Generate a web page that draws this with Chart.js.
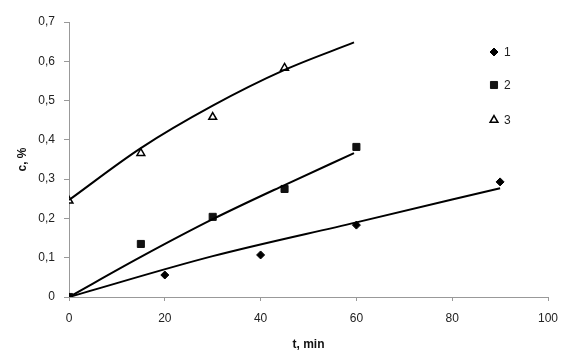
<!DOCTYPE html>
<html>
<head>
  <meta charset="UTF-8">
  <title>c vs t</title>
  <script src="https://cdn.jsdelivr.net/npm/chart.js"></script>
  <style>
    html, body { margin: 0; padding: 0; background: #fff; }
    #wrap { width: 561px; height: 352px; }
  </style>
</head>
<body>
  <div id="wrap"><canvas id="grafico" width="561" height="352"></canvas></div>

  <script>
    // measured points
    const seriesNames = ["1", "2", "3"];
    const t1 = [0, 20, 40, 60, 90];
    const c1 = [0, 0.056, 0.107, 0.183, 0.293];
    const t2 = [0, 15, 30, 45, 60];
    const c2 = [0, 0.135, 0.204, 0.275, 0.382];
    const t3 = [0, 15, 30, 45];
    const c3 = [0.245, 0.366, 0.458, 0.583];

    // trend lines
    const trendT1 = [0, 30, 60, 90];
    const trendC1 = [0, 0.104, 0.19, 0.277];
    const trendT2 = [0, 15, 30, 45, 59.5];
    const trendC2 = [0, 0.102, 0.198, 0.285, 0.366];
    const trendT3 = [0, 15, 30, 45, 59.5];
    const trendC3 = [0.247, 0.379, 0.487, 0.578, 0.648];

    const xTicks = [0, 20, 40, 60, 80, 100];
    const yTicks = [0, 0.1, 0.2, 0.3, 0.4, 0.5, 0.6, 0.7];

    const FONT = "Arial, 'Liberation Sans', sans-serif";
    const pts = (xs, ys) => xs.map((x, i) => ({ x: x, y: ys[i] }));
    const fmt = v => v === 0 ? "0" : v.toFixed(1).replace(".", ",");

    const trend = (xs, ys) => ({
      type: "line",
      data: pts(xs, ys),
      borderColor: "#000",
      borderWidth: 2,
      pointRadius: 0,
      cubicInterpolationMode: "monotone",
      fill: false
    });

    const markers = [
      { pointStyle: "rectRot", pointRadius: 4, backgroundColor: "#000", borderColor: "#000", borderWidth: 1 },
      { pointStyle: "rect", pointRadius: 5, backgroundColor: "#111", borderColor: "#111", borderWidth: 1 },
      { pointStyle: "triangle", pointRadius: 4.5, backgroundColor: "#fff", borderColor: "#000", borderWidth: 1.5 }
    ];

    const scatter = (xs, ys, m, name) => Object.assign({
      type: "scatter",
      label: name,
      data: pts(xs, ys)
    }, m);

    // legend drawn inside the plot, top right
    const legendaInterna = {
      id: "legendaInterna",
      afterDatasetsDraw(chart) {
        const ctx = chart.ctx;
        const ys = [52, 85, 120];
        seriesNames.forEach((name, i) => {
          const m = markers[i];
          ctx.save();
          ctx.fillStyle = m.backgroundColor;
          ctx.strokeStyle = m.borderColor;
          ctx.lineWidth = m.borderWidth;
          Chart.helpers.drawPoint(ctx, {
            pointStyle: m.pointStyle,
            radius: m.pointRadius,
            borderWidth: m.borderWidth,
            rotation: 0
          }, 494, ys[i]);
          ctx.font = "12px " + FONT;
          ctx.textBaseline = "middle";
          ctx.fillStyle = "#222";
          ctx.fillText(name, 504, ys[i] + 1);
          ctx.restore();
        });
      }
    };

    new Chart(document.getElementById("grafico"), {
      data: {
        datasets: [
          trend(trendT1, trendC1),
          trend(trendT2, trendC2),
          trend(trendT3, trendC3),
          scatter(t1, c1, markers[0], seriesNames[0]),
          scatter(t2, c2, markers[1], seriesNames[1]),
          scatter(t3, c3, markers[2], seriesNames[2])
        ]
      },
      options: {
        responsive: false,
        animation: false,
        layout: { padding: { top: 22, right: 13, left: 0, bottom: 0 } },
        plugins: {
          legend: { display: false },
          tooltip: { enabled: false }
        },
        scales: {
          x: {
            type: "linear",
            min: 0,
            max: 100,
            afterBuildTicks: s => { s.ticks = xTicks.map(v => ({ value: v })); },
            afterFit: s => { s.height = 55; s.paddingLeft = 0; s.paddingRight = 0; },
            ticks: {
              color: "#222",
              font: { family: FONT, size: 12 },
              padding: 10,
              maxRotation: 0
            },
            grid: { drawOnChartArea: false, drawTicks: true, tickLength: 4, color: "#999" },
            border: { color: "#999", width: 1 },
            title: {
              display: true,
              text: "t, min",
              color: "#111",
              font: { family: FONT, size: 12, weight: "bold" },
              padding: { top: 0, bottom: 0 }
            }
          },
          y: {
            type: "linear",
            min: 0,
            max: 0.7,
            afterBuildTicks: s => { s.ticks = yTicks.map(v => ({ value: v })); },
            afterFit: s => { s.width = 69; s.paddingTop = 0; s.paddingBottom = 0; },
            ticks: {
              color: "#222",
              font: { family: FONT, size: 12 },
              padding: 9,
              callback: v => fmt(v)
            },
            grid: { drawOnChartArea: false, drawTicks: true, tickLength: 5, color: "#999" },
            border: { color: "#999", width: 1 },
            title: {
              display: true,
              text: "c, %",
              color: "#111",
              font: { family: FONT, size: 12, weight: "bold" },
              padding: { top: 15, bottom: 0 }
            }
          }
        }
      },
      plugins: [legendaInterna]
    });
  </script>
</body>
</html>
